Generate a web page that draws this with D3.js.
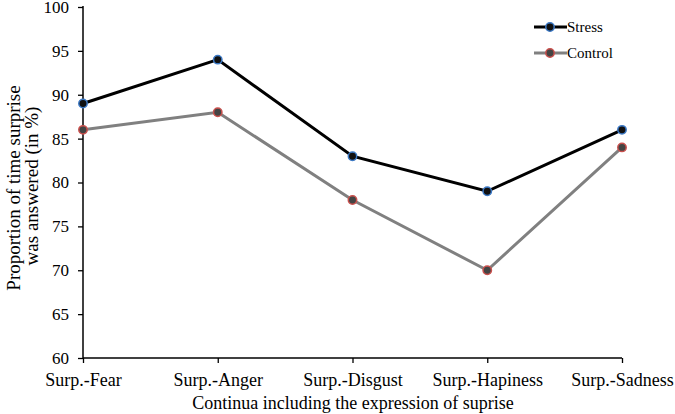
<!DOCTYPE html>
<html><head><meta charset="utf-8">
<script src="https://cdn.jsdelivr.net/npm/d3@7"></script>
<style>body{margin:0;background:#fff}svg{display:block}</style>
</head><body><svg id="c" width="675" height="414"></svg>
<script>
const categories = ["Surp.-Fear","Surp.-Anger","Surp.-Disgust","Surp.-Hapiness","Surp.-Sadness"];
const stressValues = [89, 94, 83, 79, 86];
const controlValues = [86, 88, 78, 70, 84];
const yTicks = [60,65,70,75,80,85,90,95,100];
const seriesNames = ["Stress","Control"];

const FONT = "'Liberation Serif', 'Times New Roman', Times, 'DejaVu Serif', serif";
const svg = d3.select("#c").attr("font-family", FONT);
const x = d3.scalePoint().domain(categories).range([83, 622]);
const y = d3.scaleLinear().domain([60,100]).range([358, 7]);

const yAxis = d3.axisLeft(y).tickValues(yTicks).tickSize(5).tickPadding(9);
const gy = svg.append("g").attr("transform","translate(83,0)").call(yAxis);
const xAxis = d3.axisBottom(x).tickSize(5).tickPadding(10);
const gx = svg.append("g").attr("transform","translate(0,358)").call(xAxis);
svg.selectAll("g").attr("font-family", FONT);
gy.selectAll("text").attr("font-size", 17).attr("fill","#000");
gx.selectAll("text").attr("font-size", 18).attr("fill","#000");
svg.selectAll(".domain").attr("stroke","#000").attr("stroke-width",1.5);
svg.selectAll(".tick line").attr("stroke","#000").attr("stroke-width",1.3);
gy.select(".domain").attr("d","M0,6V358");
gx.select(".domain").attr("d","M83,0H622");

const series = [
  {name: seriesNames[0], values: stressValues, line:"#000", fill:"#111", stroke:"#3b78c4"},
  {name: seriesNames[1], values: controlValues, line:"#808080", fill:"#444", stroke:"#c9504d"}
];
const line = d3.line().x((d,i)=>x(categories[i])).y(d=>y(d));
series.forEach(s=>{
  svg.append("path").datum(s.values).attr("d",line).attr("fill","none")
    .attr("stroke",s.line).attr("stroke-width",3);
  svg.selectAll(null).data(s.values).enter().append("circle")
    .attr("cx",(d,i)=>x(categories[i])).attr("cy",d=>y(d)).attr("r",4.2)
    .attr("fill",s.fill).attr("stroke",s.stroke).attr("stroke-width",1.5);
});

// legend
series.forEach((s,i)=>{
  const ly = 27 + i*26;
  svg.append("line").attr("x1",534).attr("x2",567).attr("y1",ly).attr("y2",ly)
    .attr("stroke",s.line).attr("stroke-width",3);
  svg.append("circle").attr("cx",550).attr("cy",ly).attr("r",4.2)
    .attr("fill",s.fill).attr("stroke",s.stroke).attr("stroke-width",1.5);
  svg.append("text").attr("x",567).attr("y",ly+5).attr("font-size",15).attr("font-family",FONT).text(s.name);
});

// axis titles
svg.append("text").attr("transform","translate(20,188) rotate(-90)").attr("text-anchor","middle")
  .attr("font-size",19).attr("font-family",FONT).text("Proportion of time surprise");
svg.append("text").attr("transform","translate(38,186) rotate(-90)").attr("text-anchor","middle")
  .attr("font-size",19).attr("font-family",FONT).text("was answered (in %)");
svg.append("text").attr("x",353).attr("y",409).attr("text-anchor","middle")
  .attr("font-size",18).attr("font-family",FONT).text("Continua including the expression of suprise");
</script></body></html>
